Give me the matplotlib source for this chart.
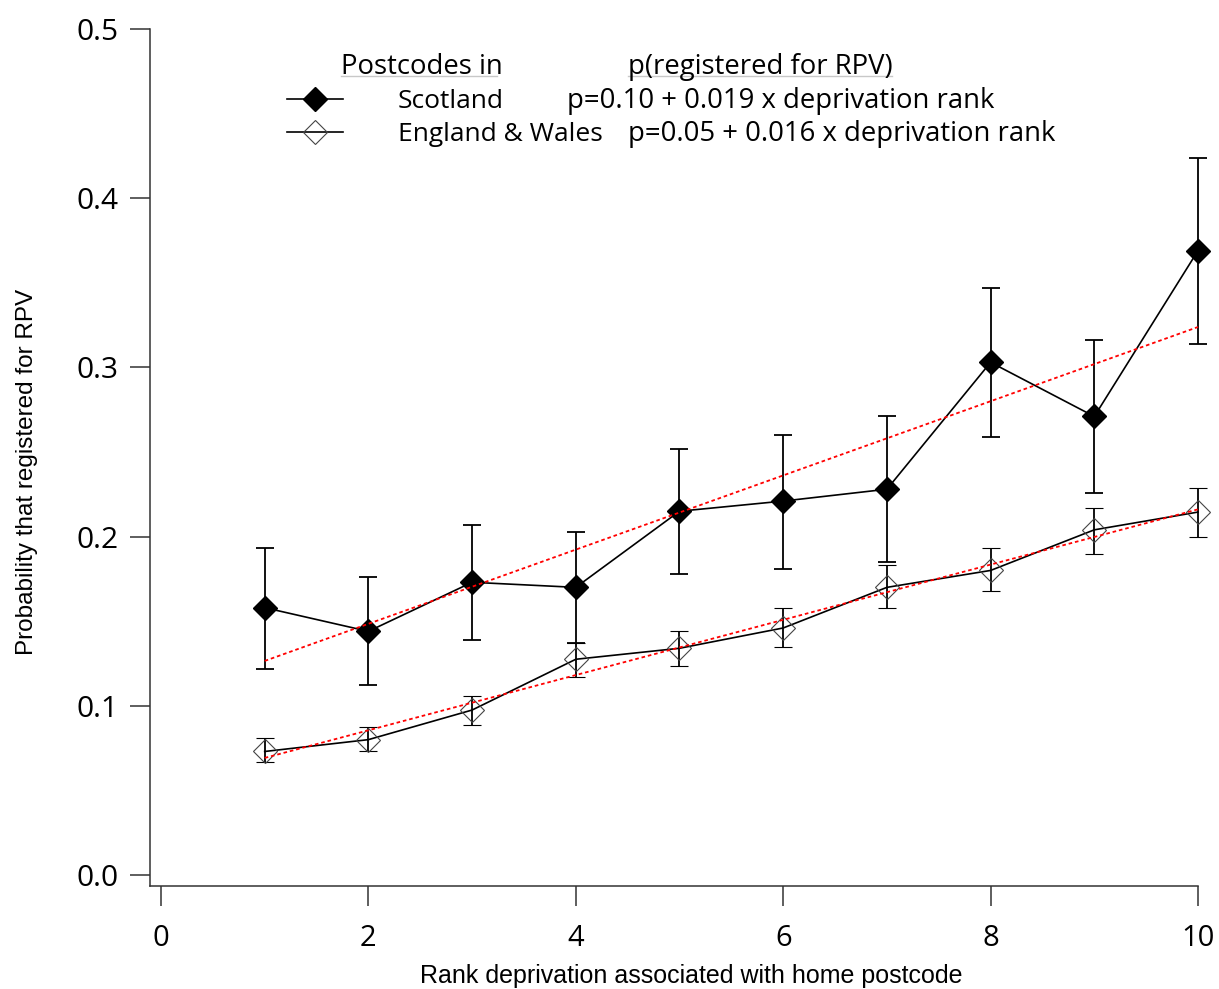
import numpy as np
import matplotlib
matplotlib.use("Agg")
import matplotlib.pyplot as plt
from matplotlib.lines import Line2D

# deprivation rank (x) and probability
rank = np.arange(1, 11)

scot_p = np.array([0.158, 0.144, 0.173, 0.170, 0.215, 0.221, 0.228, 0.303, 0.271, 0.369])
scot_lo = np.array([0.122, 0.112, 0.139, 0.137, 0.178, 0.181, 0.185, 0.259, 0.226, 0.314])
scot_hi = np.array([0.193, 0.176, 0.207, 0.203, 0.252, 0.260, 0.271, 0.347, 0.316, 0.424])

eng_p = np.array([0.073, 0.080, 0.0975, 0.1275, 0.134, 0.146, 0.170, 0.180, 0.204, 0.2145])
eng_lo = np.array([0.067, 0.073, 0.0887, 0.117, 0.1235, 0.135, 0.158, 0.168, 0.190, 0.200])
eng_hi = np.array([0.081, 0.0875, 0.106, 0.137, 0.144, 0.158, 0.183, 0.193, 0.217, 0.229])

x_ticks = [0, 2, 4, 6, 8, 10]
y_ticks = [0.0, 0.1, 0.2, 0.3, 0.4, 0.5]

legend_head = ["Postcodes in", "p(registered for RPV)"]
legend_names = ["Scotland", "England & Wales"]
legend_fits = ["p=0.10 + 0.019 x deprivation rank", "p=0.05 + 0.016 x deprivation rank"]

W, H = 1219, 989
TICK_FONT = "Open Sans"
LABEL_FONT = "Liberation Sans"
LEG_SIZE = 19.8
NAME_SIZE = 19.0


def fx(px):
    return px / W


def fy(py):
    return 1 - py / H


fig = plt.figure(figsize=(W / 100, H / 100), dpi=100)
ax = fig.add_axes([fx(150), fy(886), fx(1198) - fx(150), fy(29) - fy(886)])

# error bars + connecting line
ax.errorbar(rank, scot_p, yerr=[scot_p - scot_lo, scot_hi - scot_p], color="black",
            lw=1.2, elinewidth=1.3, capsize=6.8, capthick=1.3, marker="D", ms=12.7,
            mfc="black", mec="black", zorder=3, clip_on=False)
ax.errorbar(rank, eng_p, yerr=[eng_p - eng_lo, eng_hi - eng_p], color="black",
            lw=1.2, elinewidth=1.3, capsize=6.8, capthick=1.3, marker="D", ms=12.7,
            mfc="none", mec="#444444", mew=0.8, zorder=3, clip_on=False)

# linear fits (red dotted)
for yy in (scot_p, eng_p):
    k, m = np.polyfit(rank, yy, 1)
    xs = np.array([rank[0], rank[-1]])
    ax.plot(xs, k * xs + m, color="red", lw=1.3, ls=(0, (2, 1.6)), zorder=4, clip_on=False)

ax.set_xlim(-0.106, 10)
ax.set_ylim(-0.0065, 0.5)
ax.set_xticks(x_ticks)
ax.set_yticks(y_ticks)
ax.set_xticklabels([str(t) for t in x_ticks], fontsize=21, family=TICK_FONT)
ax.set_yticklabels([f"{t:.1f}" for t in y_ticks], fontsize=21.5, family=TICK_FONT)

for s in ("top", "right"):
    ax.spines[s].set_visible(False)
for s in ("left", "bottom"):
    ax.spines[s].set_linewidth(1.1)
    ax.spines[s].set_color("#333333")
ax.tick_params(axis="both", direction="out", length=14.4, width=1.1, color="#333333")
ax.tick_params(axis="y", pad=8)
ax.tick_params(axis="x", pad=13)

fig.text(fx(691), fy(983), "Rank deprivation associated with home postcode",
         ha="center", va="baseline", fontsize=18, family=LABEL_FONT)
fig.text(fx(38), fy(472), "Probability that registered for RPV", rotation=90,
         ha="right", va="center", fontsize=17.5, family=LABEL_FONT)

# legend block (drawn by hand)
fig.text(fx(341), fy(74), legend_head[0], fontsize=LEG_SIZE, family=TICK_FONT, va="baseline")
fig.text(fx(628), fy(74), legend_head[1], fontsize=LEG_SIZE, family=TICK_FONT, va="baseline")
fig.add_artist(Line2D([fx(341), fx(497)], [fy(76), fy(76)], color="#c8c8c8", lw=1))
fig.add_artist(Line2D([fx(628), fx(892)], [fy(76), fy(76)], color="#c8c8c8", lw=1))

rows = [(99, 108, "black", "black", 567), (132, 141, "none", "#444444", 628)]
for i, (ym, yb, fc, ec, fit_x) in enumerate(rows):
    fig.add_artist(Line2D([fx(287), fx(343)], [fy(ym), fy(ym)], color="black", lw=1.2))
    fig.add_artist(Line2D([fx(315)], [fy(ym)], marker="D", ms=12.7, mfc=fc, mec=ec,
                          mew=0.8 if fc == "none" else 1.0, ls="none"))
    fig.text(fx(398), fy(yb), legend_names[i], fontsize=NAME_SIZE, family=TICK_FONT, va="baseline")
    fig.text(fx(fit_x), fy(yb), legend_fits[i], fontsize=LEG_SIZE, family=TICK_FONT, va="baseline")

fig.savefig("out.png", dpi=100)
